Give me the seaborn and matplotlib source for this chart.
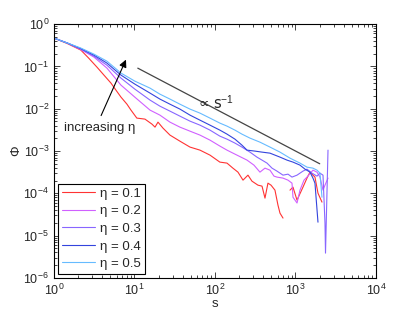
import numpy as np
import pandas as pd
import matplotlib
matplotlib.use("Agg")
import matplotlib.pyplot as plt
import seaborn as sns

# --- datos ---
etas = ["0.1", "0.2", "0.3", "0.4", "0.5"]
colores = ["#ff3333", "#d060ff", "#8866ff", "#3344dd", "#66bbff"]

s_01 = [1, 1.47, 2.16, 2.7, 3.42, 4.18, 5.11, 5.89, 6.80, 8.07, 9.05, 10.7, 13.5, 16.5, 18.0,
        19.6, 22.6, 27.6, 36.7, 48.9, 65.1, 86.7, 115, 141, 167, 193, 223, 257, 288, 342,
        384, 418, 455, 497, 556, 606, 642, 700, 855, 931, 1045, 1239, 1390, 1514, 1649,
        1746, 1903, 2133]
phi_01 = [0.467, 0.346, 0.243, 0.157, 0.0962, 0.0622, 0.0403, 0.0275, 0.0188, 0.0128, 0.00927,
          0.0060, 0.00568, 0.00432, 0.00367, 0.00482, 0.00348, 0.00238, 0.00171, 0.00124,
          0.00105, 8.0e-4, 5.47e-4, 5.18e-4, 3.94e-4, 3.17e-4, 2.05e-4, 2.69e-4, 1.94e-4,
          1.56e-4, 1.48e-4, 7.7e-5, 1.74e-4, 1.56e-4, 1.19e-4, 5.26e-5, 3.4e-5, 2.6e-5,
          1.19e-4, 1.4e-4, 6.9e-5, 1.4e-4, 2.29e-4, 3.17e-4, 2.69e-4, 2.42e-4, 1.01e-4, 6.2e-5]
# tramo 0 / tramo 1 (hueco en la curva roja)
seg_01 = [0] * 38 + [1] * 10

s_02 = [1, 1.47, 2.16, 3.14, 4.55, 6.80, 10.1, 15.6, 20.7, 27.6, 36.7, 48.9, 65.1, 86.7, 115,
        141, 177, 250, 305, 362, 418, 482, 541, 589, 700, 807, 905, 931, 1045, 1137, 1276,
        1390, 1649, 1849, 2014, 2197, 2325, 2535]
phi_02 = [0.467, 0.356, 0.25, 0.166, 0.0912, 0.0361, 0.0188, 0.00927, 0.00706, 0.00482, 0.00367,
          0.00295, 0.00238, 0.00181, 0.00131, 0.00105, 8.45e-4, 6.1e-4, 4.64e-4, 3.17e-4,
          3.94e-4, 3.53e-4, 2.55e-4, 2.42e-4, 2.29e-4, 2.05e-4, 1.74e-4, 8.1e-5, 5.9e-5,
          1.19e-4, 2.05e-4, 2.42e-4, 3.53e-4, 3.17e-4, 2.42e-4, 1.19e-4, 1.56e-4, 2.29e-4]

s_03 = [1, 1.47, 2.16, 3.14, 4.55, 6.80, 10.1, 15.6, 20.7, 27.6, 36.7, 48.9, 65.1, 86.7, 115,
        141, 177, 216, 272, 332, 384, 443, 511, 589, 700, 807, 905, 1045, 1239, 1390, 1603,
        1849, 2014, 2197, 2325, 2360, 2535]
phi_03 = [0.467, 0.356, 0.256, 0.175, 0.107, 0.0529, 0.0291, 0.016, 0.0115, 0.00877, 0.00668,
          0.00509, 0.00409, 0.00312, 0.00225, 0.00191, 0.00154, 0.00124, 9.42e-4, 7.18e-4,
          6.1e-4, 5.18e-4, 3.94e-4, 3.35e-4, 2.69e-4, 2.84e-4, 2.42e-4, 2.69e-4, 3.35e-4,
          3.73e-4, 3.0e-4, 2.55e-4, 3.0e-4, 2.69e-4, 1.98e-5, 3.86e-6, 0.00105]

s_04 = [1, 1.47, 2.16, 3.14, 4.55, 6.80, 10.1, 15.6, 20.7, 27.6, 36.7, 48.9, 65.1, 86.7, 115,
        141, 177, 216, 250, 314, 384, 482, 556, 642, 784, 931, 1137, 1313, 1514, 1649, 1746,
        1903]
phi_04 = [0.467, 0.356, 0.264, 0.185, 0.12, 0.0623, 0.0382, 0.0234, 0.0169, 0.0128, 0.0098,
          0.00706, 0.00537, 0.00409, 0.00312, 0.00251, 0.00191, 0.00138, 0.00105, 9.95e-4,
          9.42e-4, 8.91e-4, 8.0e-4, 7.18e-4, 6.1e-4, 5.47e-4, 4.64e-4, 3.73e-4, 3.17e-4,
          2.29e-4, 1.74e-4, 2.08e-5]

s_05 = [1, 1.47, 2.16, 3.14, 4.55, 6.80, 10.1, 15.6, 20.7, 27.6, 36.7, 48.9, 65.1, 86.7, 115,
        141, 177, 216, 272, 362, 482, 642, 855, 1137, 1390, 1649, 1849, 2014, 2133]
phi_05 = [0.467, 0.356, 0.271, 0.195, 0.133, 0.0695, 0.0449, 0.0307, 0.0221, 0.0169, 0.0128,
          0.0098, 0.00787, 0.006, 0.00457, 0.00388, 0.00312, 0.00251, 0.00202, 0.00162,
          0.00124, 9.42e-4, 6.79e-4, 5.18e-4, 4.16e-4, 3.94e-4, 3.53e-4, 3.0e-4, 8.1e-5]

# recta de referencia ~ s^-1
guia_s = [11, 2000]
guia_phi = [1 / 11, 1 / 2000]

# flecha "increasing eta"
flecha_ini = (3.73, 0.006)
flecha_fin = (8.1, 0.166)

curvas = [(s_01, phi_01, seg_01), (s_02, phi_02, None), (s_03, phi_03, None),
          (s_04, phi_04, None), (s_05, phi_05, None)]

filas = []
for eta, (s, phi, seg) in zip(etas, curvas):
    if seg is None:
        seg = [0] * len(s)
    for a, b, c in zip(s, phi, seg):
        filas.append({"s": a, "phi": b, "eta": "\u03b7 = " + eta, "tramo": eta + "_" + str(c)})
df = pd.DataFrame(filas)

sns.set_style("ticks")
plt.rcParams["font.family"] = ["Liberation Sans", "DejaVu Sans"]
plt.rcParams["mathtext.fontset"] = "custom"
plt.rcParams["mathtext.rm"] = "Liberation Sans"
plt.rcParams["mathtext.it"] = "Liberation Sans:italic"

fig = plt.figure(figsize=(4.15, 3.13), dpi=100)
ax = fig.add_axes([0.130, 0.112, 0.776, 0.811])

paleta = dict(zip(["\u03b7 = " + e for e in etas], colores))
sns.lineplot(data=df, x="s", y="phi", hue="eta", units="tramo", estimator=None, sort=False,
             palette=paleta, linewidth=0.8, ax=ax)

ax.plot(guia_s, guia_phi, color="#444444", linewidth=0.9)
ax.text(62, 0.0098, "\u221d s$^{-1}$", fontsize=10.5, ha="left", va="baseline",
        family=["DejaVu Sans"])
ax.annotate("", xy=flecha_fin, xytext=flecha_ini,
            arrowprops=dict(arrowstyle="-|>", color="black", lw=0.8, mutation_scale=11))
ax.text(1.33, 0.0035, "increasing \u03b7", fontsize=9.5, ha="left", va="center")

ax.set_xscale("log")
ax.set_yscale("log")
ax.set_xlim(1, 1e4)
ax.set_ylim(1e-6, 1)
ax.set_xlabel("s", fontsize=9.5, labelpad=0)
ax.set_ylabel("\u03a6", fontsize=9.5, labelpad=1)

for sp in ax.spines.values():
    sp.set_visible(True)
    sp.set_linewidth(0.8)
    sp.set_color("black")
ax.tick_params(which="both", direction="in", top=True, right=True, labelsize=9, width=0.6)
ax.tick_params(which="major", length=4)
ax.tick_params(which="minor", length=2)

leg = ax.legend(loc="lower left", fontsize=9.5, frameon=True, fancybox=False,
                edgecolor="black", framealpha=1, handlelength=2.5, borderaxespad=0.3,
                labelspacing=0.4, handletextpad=0.4, borderpad=0.3)
leg.get_frame().set_linewidth(0.8)
leg.set_title(None)

fig.savefig("out.png", dpi=100)
